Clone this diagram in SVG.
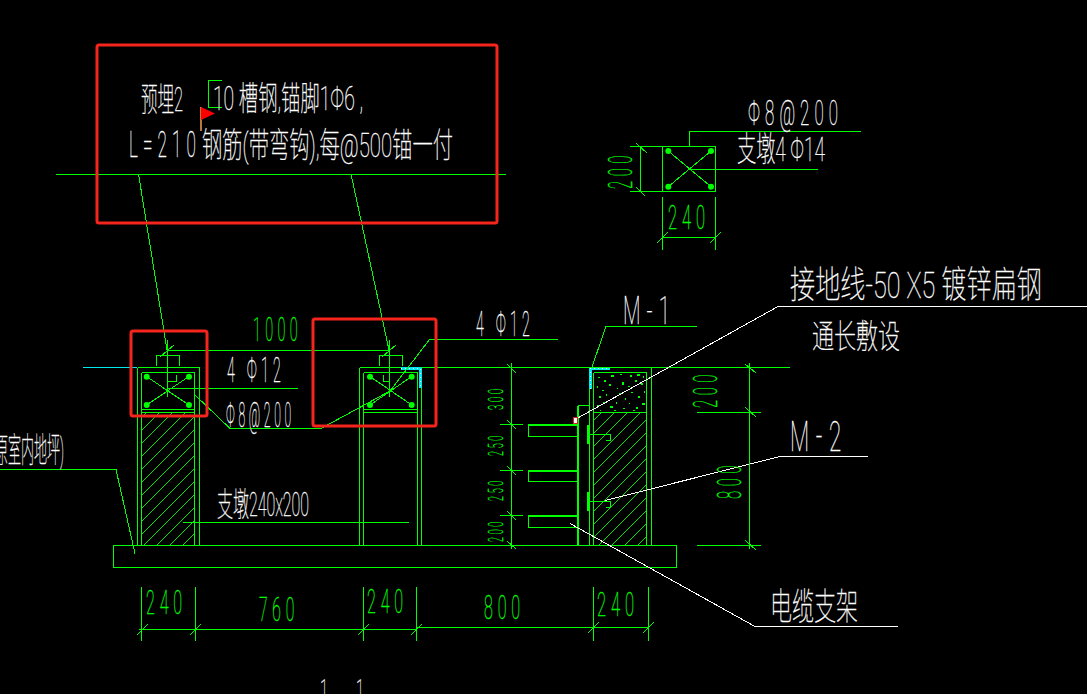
<svg xmlns="http://www.w3.org/2000/svg" width="1087" height="694" viewBox="0 0 1087 694">
<style>
.g{fill:none;stroke:#00ff00;stroke-width:1;shape-rendering:crispEdges}
.gt{fill:none;stroke:#00ff00;stroke-width:2.4;shape-rendering:crispEdges}
.w{fill:none;stroke:#ffffff;stroke-width:1;shape-rendering:crispEdges}
.r{fill:none;stroke:#f5241c;stroke-width:3}
.c{fill:none;stroke:#00e8f0;stroke-width:3;shape-rendering:crispEdges}
.cd{fill:none;stroke:#ffffff;stroke-width:1;stroke-dasharray:1 3;shape-rendering:crispEdges}
.d{fill:#00ff00}
text{font-family:Roboto,"Noto Sans CJK SC",sans-serif;font-weight:100}
.tw{fill:#ffffff;stroke:#ffffff;stroke-width:0.35}
.tg{fill:#00ff00;stroke:#00ff00;stroke-width:0.4}
.s{letter-spacing:0.3em}
</style>
<defs>
<pattern id="hatch" patternUnits="userSpaceOnUse" width="13" height="13">
<path d="M-1,14 L14,-1" stroke="#00ff00" stroke-width="0.9" fill="none" shape-rendering="crispEdges"/>
</pattern>
</defs>
<rect width="1087" height="694" fill="#000000"/>

<g id="base-slab">
<rect class="g" x="113.5" y="545.5" width="563" height="22"/>
</g>

<g id="column-left">
<path class="g" d="M137.5,367.5H199.5V545M137.5,367.5V545M141.5,372.5H194.5V545M141.5,372.5V545M141.5,409.5H194.5M141.5,412.5H194.5"/>
<rect x="142" y="413" width="52" height="132" fill="url(#hatch)"/>
<path class="g" d="M156.5,366V355.5H179.5V366M167.5,340V397M176.5,375V381.5H167.5M146.5,376.5L189,405M189,376.5L146.5,405"/>
<circle class="d" cx="146.7" cy="376.7" r="3"/><circle class="d" cx="189" cy="376.7" r="3"/><circle class="d" cx="146.7" cy="405" r="3"/><circle class="d" cx="189" cy="405" r="3"/>
</g>

<g id="column-middle">
<path class="g" d="M359.5,367.5H421.5V545M359.5,367.5V545M363.5,372.5H417.5V545M363.5,372.5V545M363.5,409.5H417.5M363.5,412.5H417.5"/>
<path class="g" d="M379.5,366V355.5H402.5V366M389.5,340V397M383.5,375V381.5H390M370,376.5L411.7,405M411.7,376.5L370,405"/>
<circle class="d" cx="370" cy="376.7" r="3"/><circle class="d" cx="411.7" cy="376.7" r="3"/><circle class="d" cx="370" cy="405" r="3"/><circle class="d" cx="411.7" cy="405" r="3"/>
<path class="c" d="M401,368.5H420.5V388"/>
<path class="cd" d="M401,368.5H420.5V388"/>
</g>

<g id="wall-right">
<path class="g" d="M589.5,367V545M651.5,367V545M593.5,372.5H646.5V545M593.5,372.5V545M593.5,412.5H646.5"/>
<rect x="594" y="413" width="52" height="132" fill="url(#hatch)"/>
<path d="M598,377h2v1h-2zM604,380h2v2h-2zM611,375h3v2h-3zM620,374h2v1h-2zM630,375h2v2h-2zM637,374h3v2h-3zM643,376h1v2h-1zM597,386h1v2h-1zM602,390h2v1h-2zM609,384h2v2h-2zM617,388h1v1h-1zM622,382h2v3h-2zM628,386h2v1h-2zM635,380h2v2h-2zM641,383h2v2h-2zM599,396h2v2h-2zM606,394h1v2h-1zM612,398h2v1h-2zM619,393h2v2h-2zM625,398h1v2h-1zM631,392h2v1h-2zM638,396h2v2h-2zM644,391h1v2h-1zM597,405h2v2h-2zM603,402h2v1h-2zM610,406h3v2h-3zM616,402h1v2h-1zM623,408h2v1h-2zM629,403h1v1h-1zM636,407h2v2h-2zM642,403h3v2h-3zM600,410h1v1h-1zM614,410h2v1h-2zM633,410h2v1h-2z" fill="#00ff00"/>
<path class="gt" d="M578,405.5V545"/>
<path class="g" d="M578,405.5H589.5"/>
<path class="gt" d="M588.5,425V444M588.5,492V511"/>
<path class="g" d="M589.5,434.5H610.5V440.5H606M589.5,501.5H610.5V507.5H606"/>
<path class="c" d="M590.5,389V368.5H610"/>
<path class="cd" d="M590.5,389V368.5H610"/>
</g>

<g id="cable-brackets">
<path class="g" d="M528.5,425V436.5H578M528.5,471V481.5H578M528.5,516V527.5H578"/>
<path class="gt" d="M528,425H578M528,471H578M528,516H578"/>
</g>

<g id="section-detail">
<rect class="g" x="662.5" y="146.5" width="53" height="45"/>
<path class="g" d="M668.3,151L711,186.7M711,151L668.3,186.7M630,146.5H662M630,191.5H662M640.5,146V192M636,143L647,153M636,187L645,196M662.5,197V250M715.5,197V250M662,237.5H716M657,243L668,232M710,243L721,232"/>
<circle class="d" cx="668.3" cy="151" r="3"/><circle class="d" cx="711" cy="151" r="3"/><circle class="d" cx="668.3" cy="186.7" r="3"/><circle class="d" cx="711" cy="186.7" r="3"/>
</g>

<g id="connectors">
<path class="g" d="M56,174.5H506M138.5,174L167,350M351,174L389,350M421,367.5H790"/>
<path d="M83,367.5H137" fill="none" stroke="#00e8f0" stroke-width="1" shape-rendering="crispEdges"/>
<path class="g" d="M167,350.5H390M160,357L174,345M382,357L396,345"/>
<path class="g" d="M167,388.5H298M195,395L230,428.5H321L390,391L429.5,339.5H558"/>
<path class="g" d="M183,522.5H409"/>
<path class="g" d="M0,469.5H116L135,553.5"/>
<path class="g" d="M592,367L606,326.5H697"/>
<path class="w" d="M575,419.5L778,306.5H1087"/>
<path class="w" d="M605,500.5L780,456.5H868"/>
<path class="w" d="M570,523.5L755,626.5H898"/>
<path class="g" d="M689.5,146V131.5H861M689.7,169.5H818"/>
</g>

<g id="dimensions">
<path class="g" d="M511.5,363V549M500,424.5H523M500,470.5H523M500,515.5H523M507,364L516,373M507,420L516,429M507,466L516,475M507,511L516,520M507,541L516,549M480,545.5H578"/>
<path class="g" d="M749.5,363V549M697,412.5H761M697,545.5H761M745,364L756,373M745,407L756,417M745,540L756,550"/>
<path class="g" d="M139,629.5H417M141.5,587V641M195.5,587V641M363.5,587V641M416.5,587V641M137,635L148,624M190,635L201,624M358,635L369,624M411,635L422,624M417,627.5H648M593.5,587V641M648.5,587V641M588,633L599,622M643,633L654,622"/>
</g>

<g id="labels">
<text class="tw" x="141" y="111" font-size="33" textLength="42" lengthAdjust="spacingAndGlyphs">预埋2</text>
<path class="g" d="M221.5,80.5H208.5V107.5H221.5"/>
<text class="tw" x="213" y="110" font-size="33" textLength="150" lengthAdjust="spacingAndGlyphs">10 槽钢,锚脚1Φ6 ,</text>
<text class="tw s" x="129" y="157" font-size="37" textLength="72" lengthAdjust="spacingAndGlyphs">L=210</text>
<text class="tw" x="202" y="157" font-size="34" textLength="251" lengthAdjust="spacingAndGlyphs">钢筋(带弯钩),每@500锚一付</text>
<text class="tw s" x="748" y="125" font-size="35" textLength="95" lengthAdjust="spacingAndGlyphs">Φ8@200</text>
<text class="tw" x="737" y="161" font-size="34" textLength="88" lengthAdjust="spacingAndGlyphs">支墩4 Φ14</text>
<text class="tw s" x="227" y="382" font-size="35" textLength="58" lengthAdjust="spacingAndGlyphs">4 Φ12</text>
<text class="tw s" x="476" y="336" font-size="35" textLength="58" lengthAdjust="spacingAndGlyphs">4 Φ12</text>
<text class="tw s" x="226" y="427" font-size="35" textLength="69" lengthAdjust="spacingAndGlyphs">Φ8@200</text>
<text class="tw" x="217" y="516" font-size="33" textLength="92" lengthAdjust="spacingAndGlyphs">支墩240x200</text>
<text class="tw" x="-5" y="462" font-size="34" textLength="69" lengthAdjust="spacingAndGlyphs">原室内地坪)</text>
<text class="tw" x="790" y="298" font-size="37" textLength="252" lengthAdjust="spacingAndGlyphs">接地线-50 X5 镀锌扁钢</text>
<text class="tw" x="812" y="348" font-size="33" textLength="88" lengthAdjust="spacingAndGlyphs">通长敷设</text>
<text class="tw s" x="623" y="324" font-size="39" textLength="53" lengthAdjust="spacingAndGlyphs">M-1</text>
<text class="tw s" x="790" y="451" font-size="42" textLength="58" lengthAdjust="spacingAndGlyphs">M-2</text>
<text class="tw" x="770" y="620" font-size="37" textLength="88" lengthAdjust="spacingAndGlyphs">电缆支架</text>
<text class="tw" x="320" y="703" font-size="34" textLength="8" lengthAdjust="spacingAndGlyphs">1</text>
<text class="tw" x="356" y="703" font-size="34" textLength="8" lengthAdjust="spacingAndGlyphs">1</text>
<text class="tg s" x="253" y="341" font-size="33" textLength="49" lengthAdjust="spacingAndGlyphs">1000</text>
<text class="tg s" x="668" y="229" font-size="33" textLength="42" lengthAdjust="spacingAndGlyphs">240</text>
<text class="tg s" x="146" y="614" font-size="33" textLength="41" lengthAdjust="spacingAndGlyphs">240</text>
<text class="tg s" x="259" y="620.5" font-size="33" textLength="40" lengthAdjust="spacingAndGlyphs">760</text>
<text class="tg s" x="367" y="613" font-size="33" textLength="41" lengthAdjust="spacingAndGlyphs">240</text>
<text class="tg s" x="484" y="619" font-size="33" textLength="41" lengthAdjust="spacingAndGlyphs">800</text>
<text class="tg s" x="597" y="616" font-size="33" textLength="42" lengthAdjust="spacingAndGlyphs">240</text>
<text class="tg s" transform="translate(632,189) rotate(-90)" font-size="33" textLength="38" lengthAdjust="spacingAndGlyphs">200</text>
<text class="tg s" transform="translate(717,408) rotate(-90)" font-size="33" textLength="38" lengthAdjust="spacingAndGlyphs">200</text>
<text class="tg s" transform="translate(741,499) rotate(-90)" font-size="33" textLength="38" lengthAdjust="spacingAndGlyphs">800</text>
<text class="tg s" transform="translate(503,410) rotate(-90)" font-size="21" textLength="24" lengthAdjust="spacingAndGlyphs">300</text>
<text class="tg s" transform="translate(503,456) rotate(-90)" font-size="21" textLength="23" lengthAdjust="spacingAndGlyphs">250</text>
<text class="tg s" transform="translate(503,501) rotate(-90)" font-size="21" textLength="23" lengthAdjust="spacingAndGlyphs">250</text>
<text class="tg s" transform="translate(503,542) rotate(-90)" font-size="21" textLength="23" lengthAdjust="spacingAndGlyphs">200</text>
</g>

<g id="highlight-boxes">
<rect class="r" x="97" y="45" width="400" height="178" rx="2"/>
<rect class="r" x="131" y="331" width="76" height="85" rx="2"/>
<rect class="r" x="313" y="319" width="123" height="107" rx="2"/>
</g>

<g id="flag">
<rect x="200" y="107" width="2" height="24" fill="#b87a3c"/>
<polygon points="201,107 215,113.5 201,120" fill="#ff0000"/>
</g>

<g id="marker">
<rect x="573.5" y="417.5" width="4" height="6" fill="#ffffff" stroke="#d02020" stroke-width="1" shape-rendering="crispEdges"/>
</g>
</svg>
